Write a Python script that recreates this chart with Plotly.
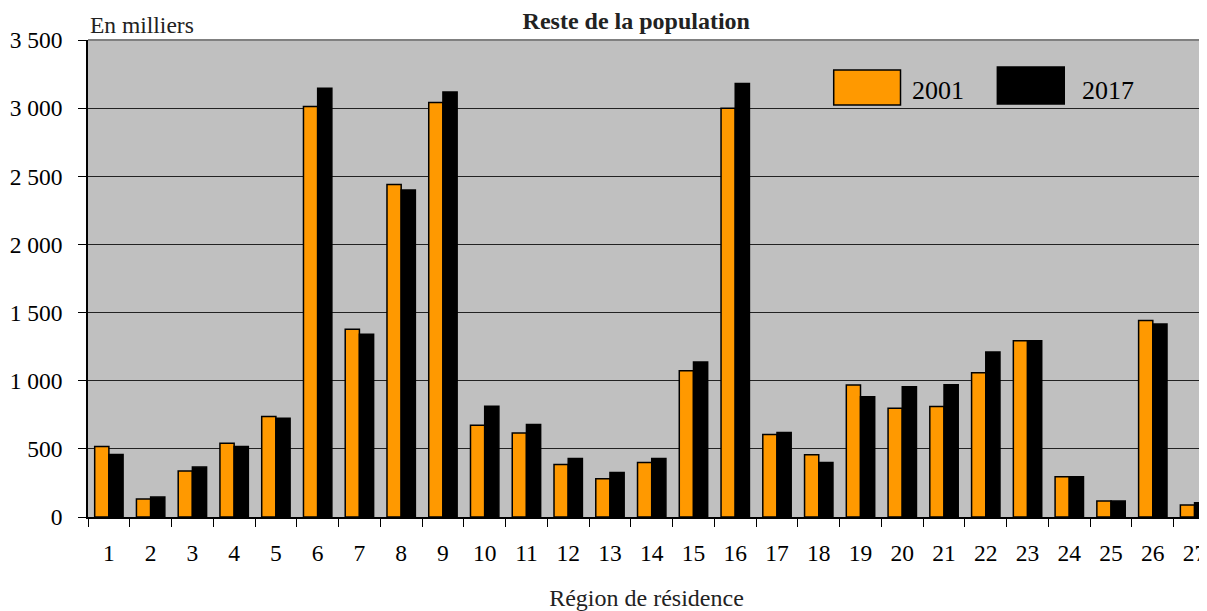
import plotly.graph_objects as go

regions = [str(i) for i in range(1, 28)]
pop_2001 = [517, 132, 337, 541, 737, 3012, 1378, 2440, 3041, 673, 617, 385, 280, 400,
            1073, 3000, 605, 456, 968, 798, 810, 1059, 1293, 295, 117, 1441, 88]
pop_2017 = [458, 146, 366, 517, 724, 3146, 1341, 2399, 3119, 812, 678, 429, 327, 429,
            1137, 3180, 620, 400, 883, 956, 971, 1210, 1293, 295, 117, 1417, 105]
series_names = ["2001", "2017"]
series_colors = ["#ff9900", "#000000"]
y_ticks = [0, 500, 1000, 1500, 2000, 2500, 3000, 3500]

FONT = "Liberation Serif"

fig = go.Figure()
for name, vals, col in zip(series_names, [pop_2001, pop_2017], series_colors):
    fig.add_trace(go.Bar(
        x=regions, y=vals, name=name,
        marker=dict(color=col, line=dict(color="#000000", width=1.5)),
        showlegend=False,
    ))

# hand-drawn legend (large boxes like the original)
legend_boxes = [(0.6676, 0.7274, 0.8637, 0.937), (0.8141, 0.874, 0.8658, 0.9434)]
legend_text_x = [0.7355, 0.8883]
for (x0, x1, y0, y1), tx, name, col in zip(legend_boxes, legend_text_x, series_names, series_colors):
    fig.add_shape(type="rect", xref="paper", yref="paper", x0=x0, x1=x1, y0=y0, y1=y1,
                  fillcolor=col, line=dict(color="#000000", width=1.5))
    fig.add_annotation(xref="paper", yref="paper", x=tx, y=0.895, text=name,
                       showarrow=False, xanchor="left", yanchor="middle",
                       font=dict(size=26, color="#000000", family=FONT))

# grey top border
fig.add_shape(type="line", xref="paper", yref="paper", x0=0, x1=1, y0=1, y1=1,
              line=dict(color="#808080", width=2))

fig.add_annotation(xref="paper", yref="paper", x=0, y=1, text="En milliers",
                   showarrow=False, xanchor="left", yanchor="bottom", yshift=0,
                   font=dict(size=23.5, color="#222222", family=FONT))

# page body adds an 8px offset, so the figure is sized 8px smaller
fig.update_layout(
    width=1199, height=603,
    margin=dict(l=80, r=0, t=32, b=94),
    title=dict(text="<b>Reste de la population</b>", x=0.524, xanchor="center",
               y=0.979, yanchor="middle", font=dict(size=24, color="#222222", family=FONT)),
    paper_bgcolor="#ffffff",
    plot_bgcolor="#c0c0c0",
    font=dict(family=FONT, color="#000000", size=23.5),
    separators=", ",
    barmode="group",
    bargap=0.32,
    bargroupgap=0,
    xaxis=dict(
        range=[-0.5, 26.25], tickson="boundaries", ticks="outside", ticklen=8,
        tickcolor="#000000", showline=True, linecolor="#000000", linewidth=1.5,
        showgrid=False, tickfont=dict(size=23.5), ticklabelstandoff=14,
        title=dict(text="Région de résidence", standoff=26,
                   font=dict(size=24, color="#222222")),
    ),
    yaxis=dict(
        range=[0, 3500], tickvals=y_ticks, tickformat=",d", separatethousands=True,
        ticks="outside", ticklen=8, tickcolor="#000000",
        showline=True, linecolor="#000000", linewidth=1.5,
        showgrid=True, gridcolor="#222222", gridwidth=1, zeroline=False,
        tickfont=dict(size=23.5), ticklabelstandoff=11,
    ),
)

fig.write_html("out.html")
